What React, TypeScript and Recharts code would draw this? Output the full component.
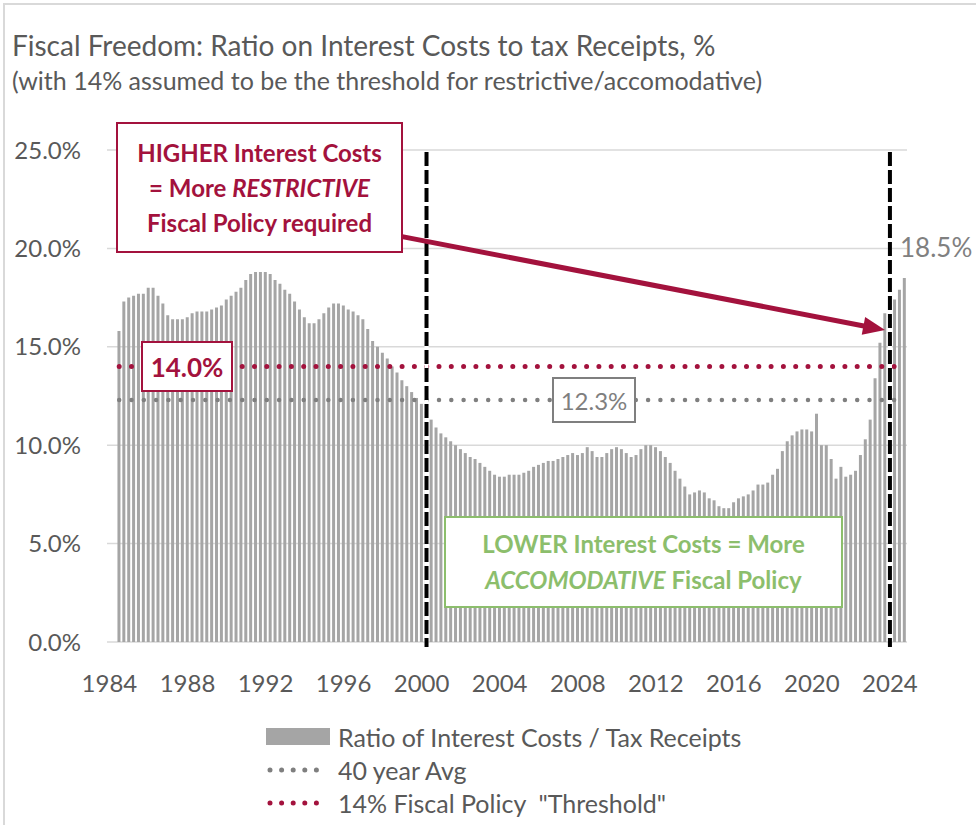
import { Bar, BarChart, CartesianGrid, Legend, ReferenceLine, XAxis, YAxis } from 'recharts'

const YEARS = Array.from({ length: 41 }, (_, i) => 1984 + i)
const QUARTERS = YEARS.flatMap((y) => [`${y} Q1`, `${y} Q2`, `${y} Q3`, `${y} Q4`])

// interest costs / tax receipts, %, one value per quarter
const RATIO: (number | null)[] = [
  null, null, 15.8, 17.3, // 1984
  17.5, 17.6, 17.7, 17.7, // 1985
  18.0, 18.0, 17.6, 17.2, // 1986
  16.6, 16.4, 16.4, 16.4, // 1987
  16.5, 16.7, 16.8, 16.8, // 1988
  16.8, 16.9, 17.0, 17.1, // 1989
  17.4, 17.6, 17.8, 18.0, // 1990
  18.4, 18.7, 18.8, 18.8, // 1991
  18.8, 18.7, 18.4, 18.2, // 1992
  17.9, 17.7, 17.3, 16.9, // 1993
  16.5, 16.2, 16.2, 16.4, // 1994
  16.7, 17.0, 17.2, 17.2, // 1995
  17.1, 16.9, 16.8, 16.6, // 1996
  16.4, 15.9, 15.3, 15.0, // 1997
  14.7, 14.4, 14.0, 13.7, // 1998
  13.3, 13.0, 12.7, 12.4, // 1999
  12.1, 11.7, 11.3, 10.9, // 2000
  10.6, 10.4, 10.2, 10.0, // 2001
  9.8, 9.6, 9.4, 9.3, // 2002
  9.1, 8.9, 8.7, 8.5, // 2003
  8.4, 8.4, 8.5, 8.5, // 2004
  8.5, 8.6, 8.7, 8.9, // 2005
  9.0, 9.1, 9.2, 9.2, // 2006
  9.3, 9.4, 9.5, 9.6, // 2007
  9.5, 9.6, 9.9, 9.7, // 2008
  9.4, 9.4, 9.6, 9.8, // 2009
  9.9, 9.8, 9.6, 9.4, // 2010
  9.5, 9.8, 10.0, 10.0, // 2011
  9.9, 9.7, 9.4, 9.1, // 2012
  8.7, 8.3, 7.9, 7.5, // 2013
  7.6, 7.7, 7.6, 7.3, // 2014
  7.2, 6.9, 6.8, 6.8, // 2015
  7.1, 7.3, 7.4, 7.5, // 2016
  7.7, 8.0, 8.0, 8.1, // 2017
  8.5, 8.8, 9.7, 10.2, // 2018
  10.5, 10.7, 10.8, 10.8, // 2019
  10.7, 11.6, 10.0, 10.0, // 2020
  9.3, 8.3, 8.9, 8.4, // 2021
  8.5, 8.7, 9.5, 10.3, // 2022
  11.3, 13.4, 15.2, 16.7, // 2023
  17.1, 17.4, 17.9, 18.5 // 2024
]

const Y_TICKS = [0, 5, 10, 15, 20, 25]
const AVG_40Y = 12.3
const THRESHOLD = 14
const FIRST_Q = '1984 Q3'
const LAST_Q = '2024 Q4'
const POLICY_BREAKS = ['2000 Q2', '2024 Q1']
const ARROW_PATH = [
  { x: '1999 Q1', y: 20.6 },
  { x: '2023 Q4', y: 15.85 }
]

const CRIMSON = '#A3123D'
const GREEN = '#8CBE6C'
const BAR_GRAY = '#A5A5A5'
const DOT_GRAY = '#7F7F7F'
const TEXT = '#595959'
const FONT = 'Lato, sans-serif'

const LEGEND_ITEMS = [
  { label: 'Ratio of Interest Costs / Tax Receipts', kind: 'bar', color: BAR_GRAY },
  { label: '40 year Avg', kind: 'dots', color: DOT_GRAY },
  { label: '14% Fiscal Policy  "Threshold"', kind: 'dots', color: CRIMSON }
]

const data = QUARTERS.map((q, i) => ({ q, ratio: RATIO[i] }))

const Arrow = (props: any) => {
  const { x1, y1, x2, y2 } = props
  const dx = x2 - x1
  const dy = y2 - y1
  const len = Math.hypot(dx, dy)
  const ux = dx / len
  const uy = dy / len
  const head = 22
  const half = 9
  const bx = x2 - ux * head
  const by = y2 - uy * head
  return (
    <g>
      <line x1={x1} y1={y1} x2={bx + ux * 3} y2={by + uy * 3} stroke={CRIMSON} strokeWidth={5} />
      <polygon
        points={`${x2},${y2} ${bx - uy * half},${by + ux * half} ${bx + uy * half},${by - ux * half}`}
        fill={CRIMSON}
      />
    </g>
  )
}

function LegendBox() {
  return (
    <div style={{ fontFamily: FONT, fontSize: 25, color: TEXT }}>
      {LEGEND_ITEMS.map((item) => (
        <div key={item.label} style={{ display: 'flex', alignItems: 'center', height: 33 }}>
          <svg width={66} height={20}>
            {item.kind === 'bar' ? (
              <rect x={0} y={1} width={64} height={17} fill={item.color} />
            ) : (
              <line
                x1={4}
                x2={62}
                y1={10}
                y2={10}
                stroke={item.color}
                strokeWidth={5}
                strokeDasharray="0 11.6"
                strokeLinecap="round"
              />
            )}
          </svg>
          <span style={{ marginLeft: 6, whiteSpace: 'pre' }}>{item.label}</span>
        </div>
      ))}
    </div>
  )
}

const boxStyle = (left: number, top: number, width: number, height: number, color: string) => ({
  position: 'absolute' as const,
  left,
  top,
  width,
  height,
  boxSizing: 'border-box' as const,
  border: `2px solid ${color}`,
  background: '#fff',
  display: 'flex',
  flexDirection: 'column' as const,
  alignItems: 'center',
  justifyContent: 'center',
  fontFamily: FONT,
  color
})

export default function App() {
  return (
    <div style={{ position: 'absolute', left: 0, top: 0, width: 976, height: 825, background: '#fff', overflow: 'hidden' }}>
      <div style={{ position: 'absolute', left: 3, top: 3, right: 0, bottom: 0, borderLeft: '2px solid #d9d9d9', borderTop: '2px solid #d9d9d9' }} />
      <div style={{ position: 'absolute', left: 12, top: 28, fontFamily: FONT, fontSize: 28, lineHeight: '34px', color: TEXT, whiteSpace: 'nowrap' }}>
        Fiscal Freedom: Ratio on Interest Costs to tax Receipts, %
      </div>
      <div style={{ position: 'absolute', left: 12, top: 66, fontFamily: FONT, fontSize: 25, lineHeight: '28px', color: TEXT, whiteSpace: 'nowrap' }}>
        (with 14% assumed to be the threshold for restrictive/accomodative)
      </div>

      <BarChart
        width={976}
        height={825}
        data={data}
        margin={{ top: 150, right: 69, bottom: 143, left: 0 }}
        barCategoryGap={0.7}
        style={{ position: 'absolute', left: 0, top: 0 }}
      >
        <CartesianGrid vertical={false} stroke="#D9D9D9" strokeWidth={1.5} />
        <XAxis
          dataKey="q"
          interval={15}
          height={40}
          axisLine={false}
          tickLine={false}
          tickSize={0}
          tickMargin={33}
          tickFormatter={(v: string) => v.slice(0, 4)}
          tick={{ fill: TEXT, fontSize: 24, fontFamily: FONT }}
        />
        <YAxis
          width={107}
          domain={[0, 25]}
          ticks={Y_TICKS}
          axisLine={false}
          tickLine={false}
          tickSize={0}
          tickMargin={26}
          tickFormatter={(v: number) => `${v.toFixed(1)}%`}
          tick={{ fill: TEXT, fontSize: 24, fontFamily: FONT }}
        />
        <Bar dataKey="ratio" fill={BAR_GRAY} isAnimationActive={false} />
        <ReferenceLine
          segment={[{ x: FIRST_Q, y: AVG_40Y }, { x: LAST_Q, y: AVG_40Y }]}
          stroke={DOT_GRAY}
          strokeWidth={4.5}
          strokeDasharray="0 12.3"
          strokeLinecap="round"
        />
        <ReferenceLine
          segment={[{ x: FIRST_Q, y: THRESHOLD }, { x: LAST_Q, y: THRESHOLD }]}
          stroke={CRIMSON}
          strokeWidth={5}
          strokeDasharray="0 12.3"
          strokeLinecap="round"
        />
        {POLICY_BREAKS.map((q) => (
          <ReferenceLine
            key={`${q}-bg`}
            segment={[{ x: q, y: 24.9 }, { x: q, y: -0.25 }]}
            stroke="#fff"
            strokeWidth={4}
            ifOverflow="visible"
          />
        ))}
        {POLICY_BREAKS.map((q) => (
          <ReferenceLine
            key={q}
            segment={[{ x: q, y: 24.9 }, { x: q, y: -0.25 }]}
            stroke="#000"
            strokeWidth={4}
            strokeDasharray="14 4"
            ifOverflow="visible"
          />
        ))}
        <ReferenceLine segment={ARROW_PATH} shape={Arrow} ifOverflow="visible" />
        <Legend
          layout="vertical"
          align="center"
          verticalAlign="middle"
          content={() => <LegendBox />}
          wrapperStyle={{ left: 266, top: 720, width: 560 }}
        />
      </BarChart>

      <div style={{ ...boxStyle(116, 122, 287, 131, CRIMSON), fontSize: 24, fontWeight: 700, lineHeight: '35px' }}>
        <div>HIGHER Interest Costs</div>
        <div>
          = More <i>RESTRICTIVE</i>
        </div>
        <div>Fiscal Policy required</div>
      </div>

      <div style={{ ...boxStyle(141, 341, 92, 51, CRIMSON), fontSize: 26, fontWeight: 700 }}>{THRESHOLD.toFixed(1)}%</div>

      <div style={{ ...boxStyle(552, 377, 84, 46, DOT_GRAY), fontSize: 24 }}>{AVG_40Y.toFixed(1)}%</div>

      <div style={{ position: 'absolute', left: 900, top: 231, fontFamily: FONT, fontSize: 26, lineHeight: '32px', color: '#808080', whiteSpace: 'nowrap' }}>
        {`${RATIO[RATIO.length - 1]}%`}
      </div>

      <div style={{ ...boxStyle(444, 516, 399, 92, GREEN), fontSize: 24, fontWeight: 700, lineHeight: '36px' }}>
        <div>LOWER Interest Costs = More</div>
        <div>
          <i>ACCOMODATIVE</i> Fiscal Policy
        </div>
      </div>
    </div>
  )
}
